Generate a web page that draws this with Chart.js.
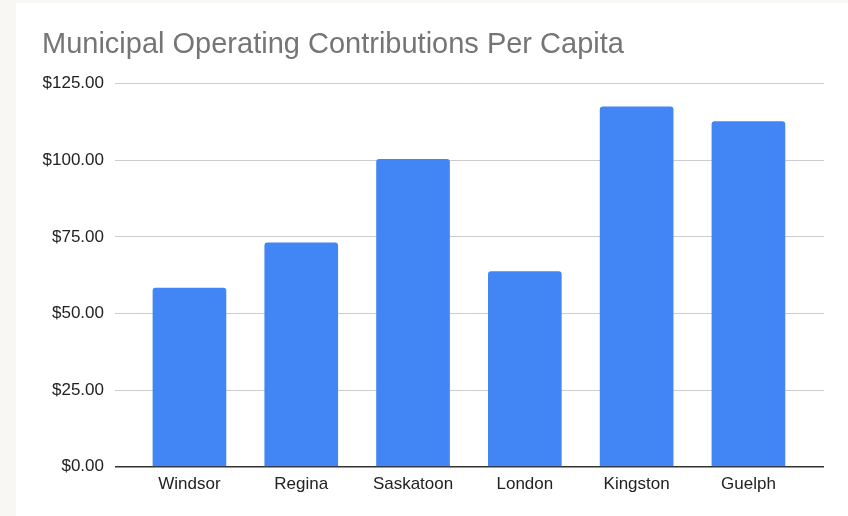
<!DOCTYPE html>
<html>
<head>
<meta charset="utf-8">
<script src="https://cdn.jsdelivr.net/npm/chart.js@4/dist/chart.umd.min.js"></script>
<style>
  html, body { margin: 0; padding: 0; background: #f8f7f3; }
  #wrap { position: absolute; left: 16px; top: 3px; width: 832px; height: 513px; background: #fff; }
</style>
</head>
<body>
<div id="wrap"><canvas id="myChart"></canvas></div>
<script>
// dados
const cidades = ['Windsor', 'Regina', 'Saskatoon', 'London', 'Kingston', 'Guelph'];
const contribuicoes = [58.3, 73.1, 100.3, 63.7, 117.5, 112.7];
const ticksY = [0, 25, 50, 75, 100, 125];

const config = {
    type: 'bar',
    data: {
        labels: cidades,
        datasets: [{
            data: contribuicoes,
            backgroundColor: '#4285f4',
            barThickness: 73,
            borderRadius: 3,
            borderSkipped: 'start'
        }]
    },
    options: {
        responsive: true,
        maintainAspectRatio: false,
        animation: false,
        layout: {
            padding: { left: 26, right: 24, top: 0, bottom: 13 }
        },
        plugins: {
            legend: { display: false },
            tooltip: { enabled: false },
            title: {
                display: true,
                text: 'Municipal Operating Contributions Per Capita',
                align: 'start',
                color: '#757575',
                font: { family: 'Liberation Sans, Arial, sans-serif', size: 29, weight: 'normal' },
                padding: { top: 25, bottom: 21 }
            }
        },
        scales: {
            x: {
                grid: { display: false, drawTicks: false },
                border: { display: false },
                ticks: {
                    color: '#222',
                    padding: 8,
                    font: { family: 'Liberation Sans, Arial, sans-serif', size: 17 }
                },
                // espaço extra nas bordas, como no gráfico original
                afterBuildTicks: function(scale) {
                    scale._startValue = -0.666;
                    scale._valueRange = 6.342;
                }
            },
            y: {
                min: 0,
                max: 125,
                afterBuildTicks: function(scale) {
                    scale.ticks = ticksY.map(v => ({ value: v }));
                },
                afterFit: function(scale) {
                    scale.width = 73;
                },
                border: { display: false },
                grid: {
                    drawTicks: false,
                    color: ctx => ctx.tick && ctx.tick.value === 0 ? '#333' : '#ccc',
                    lineWidth: ctx => ctx.tick && ctx.tick.value === 0 ? 1.5 : 1
                },
                ticks: {
                    color: '#222',
                    padding: 11,
                    font: { family: 'Liberation Sans, Arial, sans-serif', size: 17 },
                    callback: v => '$' + Number(v).toFixed(2)
                }
            }
        }
    }
};

const ctx = document.getElementById('myChart').getContext('2d');
const chart = new Chart(ctx, config);
</script>
</body>
</html>
